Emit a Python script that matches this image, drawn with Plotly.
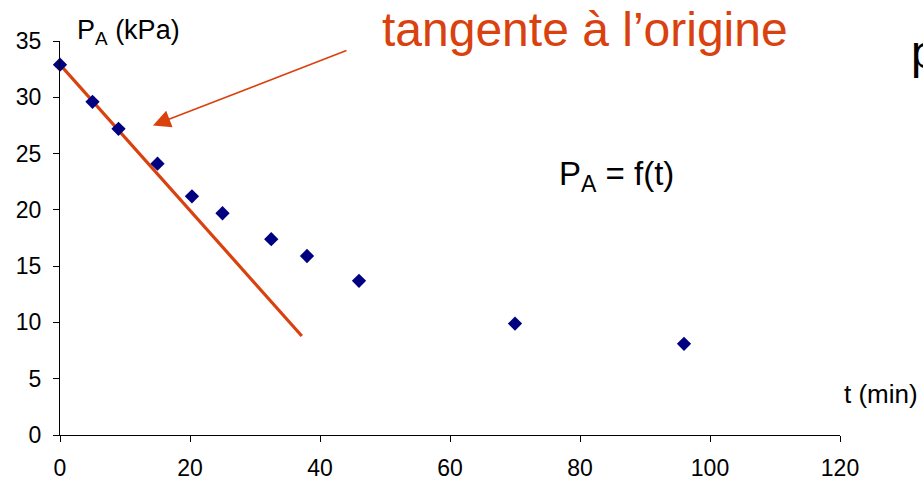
import plotly.graph_objects as go

# Data
t_min = [0, 5, 9, 15, 20.3, 25, 32.5, 38, 46, 70, 96]
p_kpa = [32.9, 29.6, 27.2, 24.1, 21.2, 19.7, 17.4, 15.9, 13.7, 9.9, 8.1]

tangent_t = [0, 37.2]
tangent_p = [32.9, 8.8]

arrow_tail = (44.3, 34.2)
arrow_head = (14.3, 27.5)

x_ticks = [0, 20, 40, 60, 80, 100, 120]
y_ticks = [0, 5, 10, 15, 20, 25, 30, 35]

orange = "#D9410E"
navy = "#000080"
font_family = "Liberation Sans, Arial, sans-serif"

fig = go.Figure()

fig.add_trace(go.Scatter(
    x=tangent_t, y=tangent_p, mode="lines",
    line=dict(color=orange, width=3.2),
    showlegend=False, hoverinfo="skip", cliponaxis=False,
))

fig.add_trace(go.Scatter(
    x=t_min, y=p_kpa, mode="markers",
    marker=dict(symbol="diamond", size=11, color=navy),
    showlegend=False, cliponaxis=False,
))

fig.update_layout(
    width=923, height=481,
    margin=dict(l=60, r=83, t=41, b=46, autoexpand=False),
    paper_bgcolor="white", plot_bgcolor="white",
    font=dict(family=font_family, size=23, color="black"),
    xaxis=dict(
        range=[0, 120], tickvals=x_ticks, showgrid=False, zeroline=False,
        showline=True, linecolor="black", linewidth=1, automargin=False,
        ticks="outside", ticklen=6, tickcolor="black",
        ticklabelstandoff=6, tickfont=dict(size=23),
    ),
    yaxis=dict(
        range=[0, 35], tickvals=y_ticks, showgrid=False, zeroline=False,
        showline=True, linecolor="black", linewidth=1, automargin=False,
        ticks="outside", ticklen=6, tickcolor="black",
        ticklabelstandoff=7, tickfont=dict(size=23),
    ),
)

annotations = [
    # arrow
    dict(x=arrow_head[0], y=arrow_head[1], ax=arrow_tail[0], ay=arrow_tail[1],
         xref="x", yref="y", axref="x", ayref="y", text="",
         showarrow=True, arrowhead=2, arrowsize=2.2, arrowwidth=1.6,
         arrowcolor=orange),
    dict(x=(585 - 60) / 780, y=(435 - 30) / 394, xref="paper", yref="paper",
         text="tangente à l’origine", showarrow=False,
         font=dict(size=48, color=orange), xanchor="center", yanchor="middle"),
    dict(x=(616 - 60) / 780, y=(435 - 176) / 394, xref="paper", yref="paper",
         text="P<sub>A</sub> = f(t)", showarrow=False,
         font=dict(size=33, color="black"), xanchor="center", yanchor="middle"),
    dict(x=(75 - 60) / 780, y=(435 - 32) / 394, xref="paper", yref="paper",
         text="P<sub>A</sub> (kPa)", showarrow=False,
         font=dict(size=27, color="black"), xanchor="left", yanchor="middle"),
    dict(x=(842 - 60) / 780, y=(435 - 394) / 394, xref="paper", yref="paper",
         text="t (min)", showarrow=False,
         font=dict(size=26, color="black"), xanchor="left", yanchor="middle"),
    dict(x=(909 - 60) / 780, y=(435 - 52) / 394, xref="paper", yref="paper",
         text="p", showarrow=False,
         font=dict(size=46, color="black"), xanchor="left", yanchor="middle"),
]
fig.update_layout(annotations=annotations)

fig.write_html("out.html")
